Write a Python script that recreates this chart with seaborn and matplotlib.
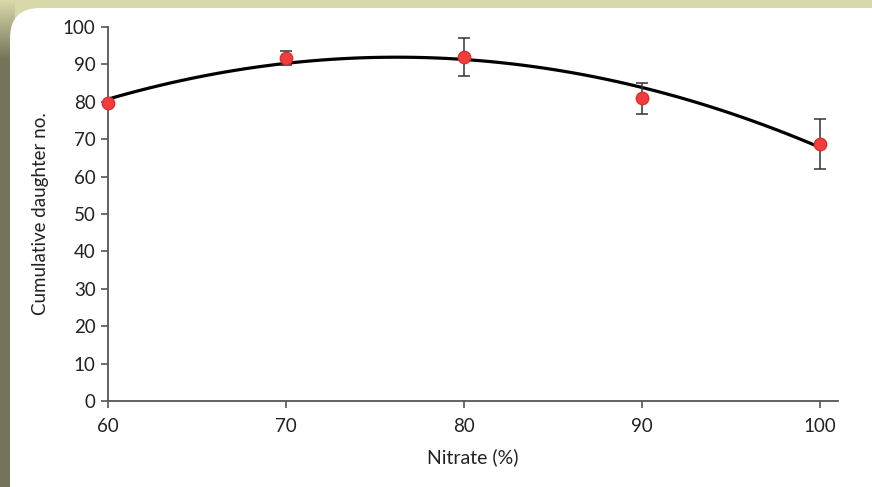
import matplotlib
matplotlib.use('Agg')
import numpy as np
import pandas as pd
import seaborn as sns
from matplotlib import pyplot as plt
from matplotlib.patches import FancyBboxPatch

# measured means and error bars
nitrate = [60, 70, 80, 90, 100]
daughters = [79.7, 91.7, 92.0, 80.9, 68.7]
err = [0.0, 1.9, 5.0, 4.2, 6.6]

# trend line at each nitrate level (2nd order fit)
trend_y = [80.7, 90.3, 91.3, 83.8, 67.8]

x_ticks = [60, 70, 80, 90, 100]
y_ticks = [0, 10, 20, 30, 40, 50, 60, 70, 80, 90, 100]

df = pd.DataFrame({"Nitrate": nitrate, "Daughters": daughters, "Err": err})
trend = pd.DataFrame({"Nitrate": nitrate, "Trend": trend_y})

sns.set_style("white")
plt.rcParams['font.family'] = ['Lato', 'DejaVu Sans']

fig = plt.figure(figsize=(8.72, 4.87), dpi=100)
fig.patch.set_facecolor('#d8d8aa')

# background: darker olive strip on the left with a soft fade at the top
bg = fig.add_axes([0, 0, 1, 1], zorder=-10)
bg.set_xlim(0, 872)
bg.set_ylim(487, 0)
bg.axis('off')
grad = np.linspace(0, 1, 60)[:, None]
bg.imshow(np.dstack([np.interp(grad, [0, 1], [0.85, 0.46]),
                     np.interp(grad, [0, 1], [0.85, 0.455]),
                     np.interp(grad, [0, 1], [0.67, 0.35])]),
          extent=[0, 14, 60, 0], aspect='auto')
bg.add_patch(plt.Rectangle((0, 60), 14, 427, color='#75735a', lw=0))
bg.add_patch(FancyBboxPatch((10, 8), 900, 520, boxstyle="round,pad=0,rounding_size=30",
                            facecolor='white', edgecolor='none'))

ax = fig.add_axes([0.1239, 0.1766, 0.8371, 0.768])
ax.set_facecolor('none')

sns.regplot(data=trend, x="Nitrate", y="Trend", order=2, ci=None, scatter=False,
            line_kws={"color": "black", "lw": 2.3}, ax=ax)
ax.errorbar(df["Nitrate"], df["Daughters"], yerr=df["Err"], fmt='none',
            ecolor='#333333', elinewidth=1.1, capsize=4, capthick=1.1, zorder=3)
sns.scatterplot(data=df, x="Nitrate", y="Daughters", s=80, color='#f23d3d',
                edgecolor='#d83030', linewidth=1, zorder=4, ax=ax, clip_on=False)

ax.set_xlim(60, 101)
ax.set_ylim(0, 100)
ax.set_xticks(x_ticks)
ax.set_yticks(y_ticks)
ax.tick_params(axis='both', bottom=True, left=True, direction='out', length=5,
               width=1.2, color='#555555', labelsize=13.5, labelcolor='#222222', pad=4)
ax.tick_params(axis='x', pad=7)
ax.set_xlabel("Nitrate (%)", fontsize=14, color='#222222', labelpad=10)
ax.set_ylabel("Cumulative daughter no.", fontsize=13.5, color='#222222', labelpad=10)
for side in ['top', 'right']:
    ax.spines[side].set_visible(False)
for side in ['left', 'bottom']:
    ax.spines[side].set_color('#555555')
    ax.spines[side].set_linewidth(1.3)

fig.savefig("out.png", dpi=100)
